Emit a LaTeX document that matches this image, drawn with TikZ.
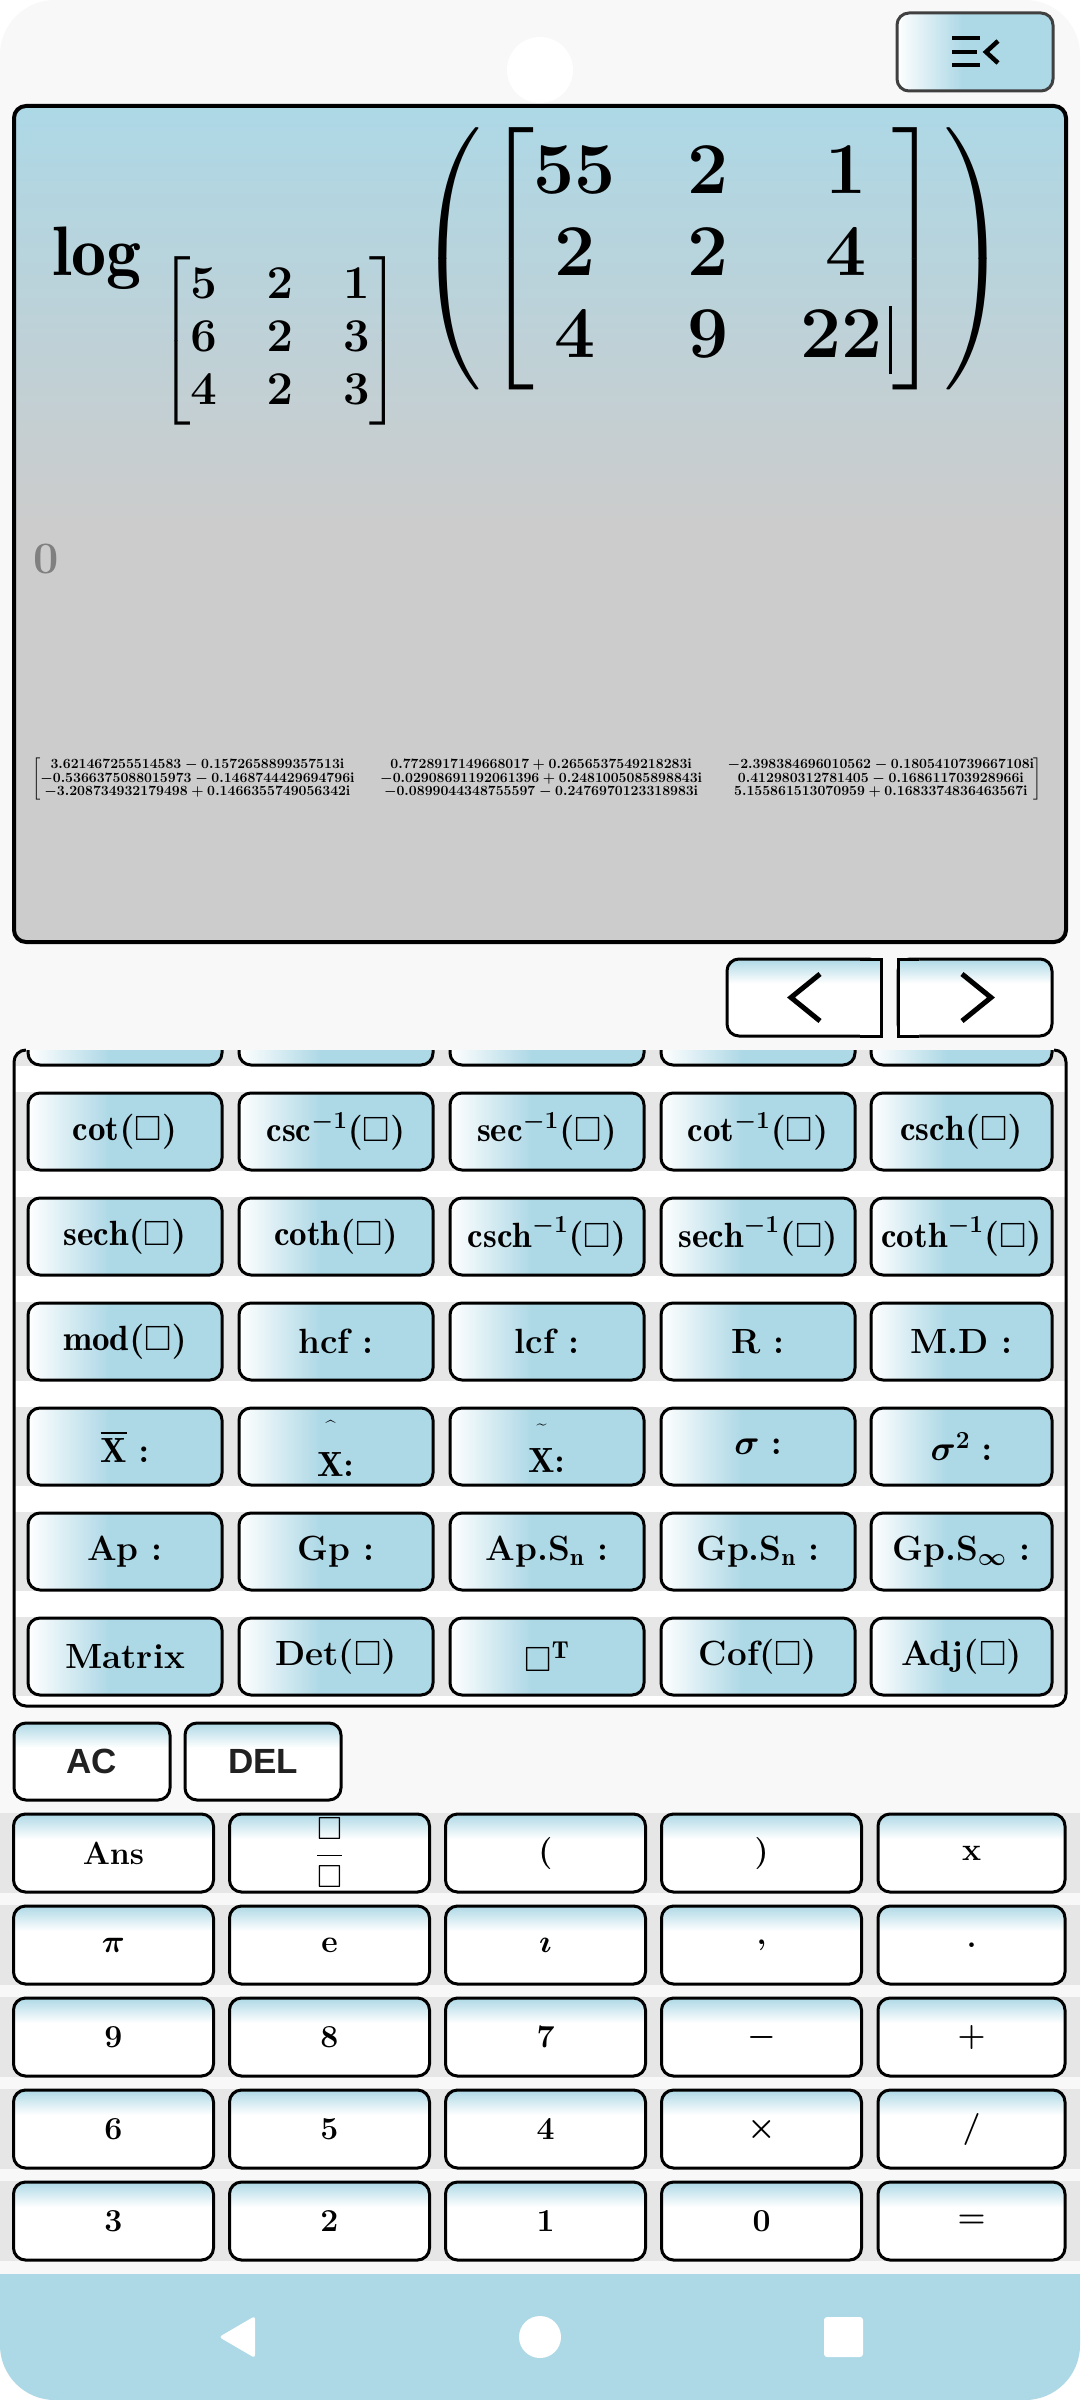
\RequirePackage{fix-cm}
\documentclass[tikz,border=0pt]{standalone}
\usepackage{amsmath,amssymb}
\usepackage{fontspec}
\newfontfamily\uifont{Liberation Sans}
\usetikzlibrary{positioning}
\definecolor{keyblue}{HTML}{ADD8E6}
\definecolor{panelgray}{HTML}{CCCCCC}
\definecolor{screenbg}{HTML}{F8F8F8}
\definecolor{bandgray}{HTML}{E6E6E6}
\pgfdeclarehorizontalshading{keyh}{100bp}{color(0bp)=(white); color(25bp)=(white); color(46bp)=(keyblue); color(100bp)=(keyblue)}
\pgfdeclareverticalshading{keyv}{100bp}{color(0bp)=(white); color(59bp)=(white); color(75bp)=(keyblue); color(100bp)=(keyblue)}
\pgfdeclareverticalshading{screenv}{100bp}{color(0bp)=(panelgray); color(50bp)=(panelgray); color(75bp)=(keyblue); color(100bp)=(keyblue)}
\begin{document}
\begin{tikzpicture}[
  x=1pt, y=-1pt,
  fkey/.style={rectangle, draw, line width=3pt, rounded corners=12pt, shading=keyh, minimum width=194pt, minimum height=77pt, node distance=211pt, font=\fontsize{35}{40}\selectfont\bfseries\boldmath},
  fkeyend/.style={fkey, minimum width=181pt, node distance=203.5pt},
  nkey/.style={rectangle, draw, line width=3pt, rounded corners=12pt, shading=keyv, minimum width=200pt, minimum height=78pt, node distance=216pt, font=\fontsize{32}{37}\selectfont\bfseries\boldmath},
  nkeyend/.style={nkey, minimum width=187pt, node distance=210pt},
  ctlkey/.style={nkey, minimum width=156pt, minimum height=77pt, node distance=171pt, font=\uifont\fontsize{35}{40}\selectfont\bfseries, text=black!87},
  band/.style={fill=bandgray},
  icon/.style={line width=5pt}
]
\useasboundingbox (0,0) rectangle (1080,2400);
\fill[white] (0,0) rectangle (1080,2400);
\fill[screenbg, rounded corners=55pt] (0,0) rectangle (1080,2400);
\fill[white] (540,70) circle (33);

% top bar
\node[fkey, minimum width=156pt, minimum height=78pt, draw=black!75] (menu) at (975,52) {};
\draw[icon, line width=4.5pt] (952,38) -- (980,38) (952,52) -- (977,52) (952,65) -- (980,65);
\draw[icon, line width=4.5pt] (998,41) -- (986,52) -- (998,63);

% display
\shadedraw[shading=screenv, line width=4pt, rounded corners=12pt] (14,106) rectangle (1066,942);
\node[font=\fontsize{70}{84}\selectfont\boldmath, anchor=base west, inner sep=0] (logw) at (52,276) {$\log$};
\node[font=\fontsize{47}{53}\selectfont\boldmath, inner sep=0] (base) at (280,341)
  {$\setlength{\arraycolsep}{25pt}\begin{bmatrix}5&2&1\\6&2&3\\4&2&3\end{bmatrix}$};
\node[font=\fontsize{73}{82}\selectfont\boldmath, inner sep=0] (arg) at (713,259)
  {$\left(\hspace{4pt}\setlength{\arraycolsep}{36pt}\begin{bmatrix}55&2&1\\2&2&4\\4&9&22\hspace{6pt}\rule[-17pt]{3pt}{68pt}\end{bmatrix}\hspace{4pt}\right)$};
\node[font=\fontsize{45}{54}\selectfont\bfseries, text=gray, anchor=base west, inner sep=0] (zero) at (33,573) {0};
\node[font=\fontsize{14.05}{11.7}\selectfont\boldmath, inner sep=0] (res) at (537,779)
  {$\setlength{\arraycolsep}{13pt}\begin{bmatrix}
  3.621467255514583-0.1572658899357513\mathrm{i} & 0.7728917149668017+0.2656537549218283\mathrm{i} & -2.398384696010562-0.1805410739667108\mathrm{i}\\
  -0.5366375088015973-0.1468744429694796\mathrm{i} & -0.02908691192061396+0.2481005085898843\mathrm{i} & 0.412980312781405-0.168611703928966\mathrm{i}\\
  -3.208734932179498+0.1466355749056342\mathrm{i} & -0.0899044348755597-0.2476970123318983\mathrm{i} & 5.155861513070959+0.1683374836463567\mathrm{i}
  \end{bmatrix}$};

% page buttons
\shadedraw[shading=keyv, line width=3pt, rounded corners=12pt] (727,959) rectangle (881,1036);
\shade[shading=keyv] (860,959) rectangle (881,1036);
\draw[line width=3pt] (860,959) -- (881,959) -- (881,1036) -- (860,1036);
\shadedraw[shading=keyv, line width=3pt, rounded corners=12pt] (898,959) rectangle (1052,1036);
\shade[shading=keyv] (898,959) rectangle (919,1036);
\draw[line width=3pt] (919,959) -- (898,959) -- (898,1036) -- (919,1036);
\draw[icon] (820,974) -- (791,997.5) -- (820,1021);
\draw[icon] (962,974) -- (991,997.5) -- (962,1021);

% function keys
\fill[white, rounded corners=12pt] (14,1050) rectangle (1066,1706);
\begin{scope}
\clip[rounded corners=12pt] (14,1050) rectangle (1066,1706);
\foreach \t in {988,1093,1198,1303,1408,1513,1618}
  \fill[band] (14,\t-1) rectangle (1066,\t+78);
\node[fkey] (kh1) at (125,1026.5) {};
\node[fkey, right of=kh1] (kh2) {};
\node[fkey, right of=kh2] (kh3) {};
\node[fkey, right of=kh3] (kh4) {};
\node[fkeyend, right of=kh4] (kh5) {};
\end{scope}
\draw[line width=3pt, rounded corners=12pt] (26,1050) -- (14,1050) -- (14,1706) -- (1066,1706) -- (1066,1050) -- (1054,1050);

\node[fkey, node distance=105pt, below of=kh1] (kcot) {$\cot(\square)$};
\node[fkey, right of=kcot] (kacsc) {$\csc^{-1}(\square)$};
\node[fkey, right of=kacsc] (kasec) {$\sec^{-1}(\square)$};
\node[fkey, right of=kasec] (kacot) {$\cot^{-1}(\square)$};
\node[fkeyend, right of=kacot] (kcsch) {$\operatorname{csch}(\square)$};

\node[fkey, node distance=105pt, below of=kcot] (ksech) {$\operatorname{sech}(\square)$};
\node[fkey, right of=ksech] (kcoth) {$\coth(\square)$};
\node[fkey, right of=kcoth] (kacsch) {$\operatorname{csch}^{-1}(\square)$};
\node[fkey, right of=kacsch] (kasech) {$\operatorname{sech}^{-1}(\square)$};
\node[fkeyend, right of=kasech] (kacoth) {$\coth^{-1}(\square)$};

\node[fkey, node distance=105pt, below of=ksech] (kmod) {$\operatorname{mod}(\square)$};
\node[fkey, right of=kmod] (khcf) {hcf :};
\node[fkey, right of=khcf] (klcf) {lcf :};
\node[fkey, right of=klcf] (kr) {R :};
\node[fkeyend, right of=kr] (kmd) {M.D :};

\node[fkey, node distance=105pt, below of=kmod] (kmean) {$\overline{\mathrm{X}}:$};
\node[fkey, right of=kmean] (kxhat) {$\overset{\raisebox{12pt}{\fontsize{18}{18}\selectfont\^{}}}{\mathrm{X}}$:};
\node[fkey, right of=kxhat] (kxtilde) {$\overset{\raisebox{12pt}{\fontsize{18}{18}\selectfont\~{}}}{\mathrm{X}}$:};
\node[fkey, right of=kxtilde] (ksd) {$\sigma:$};
\node[fkeyend, right of=ksd] (kvar) {$\sigma^2:$};

\node[fkey, node distance=105pt, below of=kmean] (kap) {Ap :};
\node[fkey, right of=kap] (kgp) {Gp :};
\node[fkey, right of=kgp] (kaps) {Ap.S$_\mathrm{n}$ :};
\node[fkey, right of=kaps] (kgps) {Gp.S$_\mathrm{n}$ :};
\node[fkeyend, right of=kgps] (kgpinf) {Gp.S$_\infty$ :};

\node[fkey, node distance=105pt, below of=kap] (kmat) {Matrix};
\node[fkey, right of=kmat] (kdet) {Det($\square$)};
\node[fkey, right of=kdet] (ktr) {$\square^{\mathrm{T}}$};
\node[fkey, right of=ktr] (kcof) {Cof($\square$)};
\node[fkeyend, right of=kcof] (kadj) {Adj($\square$)};

% keypad
\foreach \t in {1814,1906,1998,2090,2182}
  \fill[band] (0,\t-1) rectangle (1080,\t+79);
\node[ctlkey] (kac) at (92,1761.5) {AC};
\node[ctlkey, right of=kac] (kdel) {DEL};

\node[nkey] (kans) at (113.5,1853) {Ans};
\node[nkey, right of=kans] (kfrac) {$\dfrac{\square}{\square}$};
\node[nkey, right of=kfrac] (klp) {(};
\node[nkey, right of=klp] (krp) {)};
\node[nkeyend, right of=krp] (kx) {x};

\node[nkey, node distance=92pt, below of=kans] (kpi) {$\pi$};
\node[nkey, right of=kpi] (ke) {e};
\node[nkey, right of=ke] (ki) {$\imath$};
\node[nkey, right of=ki] (kcomma) {,};
\node[nkeyend, right of=kcomma] (kdot) {.};

\node[nkey, node distance=92pt, below of=kpi] (k9) {9};
\node[nkey, right of=k9] (k8) {8};
\node[nkey, right of=k8] (k7) {7};
\node[nkey, right of=k7] (kminus) {$-$};
\node[nkeyend, right of=kminus] (kplus) {$+$};

\node[nkey, node distance=92pt, below of=k9] (k6) {6};
\node[nkey, right of=k6] (k5) {5};
\node[nkey, right of=k5] (k4) {4};
\node[nkey, right of=k4] (ktimes) {$\times$};
\node[nkeyend, right of=ktimes] (kdiv) {/};

\node[nkey, node distance=92pt, below of=k6] (k3) {3};
\node[nkey, right of=k3] (k2) {2};
\node[nkey, right of=k2] (k1) {1};
\node[nkey, right of=k1] (k0) {0};
\node[nkeyend, right of=k0] (keq) {$=$};

% navigation bar
\fill[keyblue, rounded corners=55pt] (0,2274) rectangle (1080,2400);
\fill[keyblue] (0,2274) rectangle (1080,2340);
\fill[white, rounded corners=3pt] (255,2316) -- (255,2358) -- (219,2337) -- cycle;
\fill[white] (540,2337) circle (21);
\fill[white, rounded corners=3pt] (824,2317) rectangle (863,2357);
\end{tikzpicture}
\end{document}
